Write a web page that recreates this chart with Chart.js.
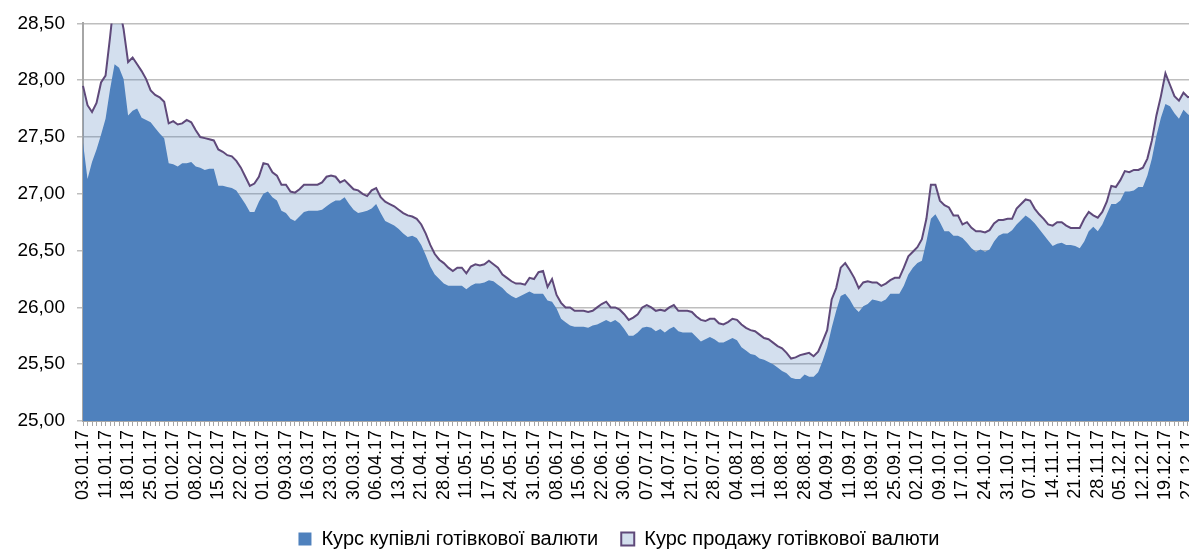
<!DOCTYPE html>
<html>
<head>
<meta charset="utf-8">
<title>Курс готівкової валюти</title>
<script src="https://cdn.jsdelivr.net/npm/chart.js@4.4.1/dist/chart.umd.min.js"></script>
<style>
  html, body { margin: 0; padding: 0; background: #fff; overflow: hidden; }
  #wrap { width: 1238px; height: 559px; }
</style>
</head>
<body>
<div id="wrap"><canvas id="rateChart" width="1238" height="559"></canvas></div>
<script>
// tick labels, one every 5 business days
const tickLabels = [
  '03.01.17', '11.01.17', '18.01.17', '25.01.17', '01.02.17', '08.02.17', '15.02.17', '22.02.17',
  '01.03.17', '09.03.17', '16.03.17', '23.03.17', '30.03.17', '06.04.17', '13.04.17', '21.04.17',
  '28.04.17', '11.05.17', '17.05.17', '24.05.17', '31.05.17', '08.06.17', '15.06.17', '22.06.17',
  '30.06.17', '07.07.17', '14.07.17', '21.07.17', '28.07.17', '04.08.17', '11.08.17', '18.08.17',
  '28.08.17', '04.09.17', '11.09.17', '18.09.17', '25.09.17', '02.10.17', '09.10.17', '17.10.17',
  '24.10.17', '31.10.17', '07.11.17', '14.11.17', '21.11.17', '28.11.17', '05.12.17', '12.12.17',
  '19.12.17', '27.12.17'
];

// Курс купівлі (buying rate)
const buyRate = [
  27.45, 27.13, 27.28, 27.39, 27.52, 27.66, 27.92, 28.14, 28.11, 28.01,
  27.69, 27.73, 27.75, 27.67, 27.65, 27.63, 27.58, 27.53, 27.49, 27.27,
  27.26, 27.24, 27.27, 27.27, 27.28, 27.24, 27.23, 27.21, 27.22, 27.22,
  27.07, 27.07, 27.06, 27.05, 27.03, 26.97, 26.91, 26.84, 26.84, 26.93,
  27.00, 27.02, 26.97, 26.94, 26.85, 26.83, 26.78, 26.76, 26.80, 26.84,
  26.85, 26.85, 26.85, 26.86, 26.89, 26.92, 26.94, 26.94, 26.97, 26.91,
  26.86, 26.83, 26.84, 26.85, 26.87, 26.91, 26.83, 26.76, 26.74, 26.72,
  26.69, 26.65, 26.62, 26.63, 26.61, 26.55, 26.46, 26.36, 26.29, 26.25,
  26.21, 26.19, 26.19, 26.19, 26.19, 26.16, 26.19, 26.21, 26.21, 26.22,
  26.24, 26.23, 26.20, 26.17, 26.13, 26.10, 26.08, 26.10, 26.12, 26.14,
  26.12, 26.12, 26.12, 26.06, 26.05, 25.99, 25.90, 25.87, 25.84, 25.83,
  25.83, 25.83, 25.82, 25.84, 25.85, 25.87, 25.89, 25.87, 25.89, 25.86,
  25.81, 25.75, 25.75, 25.78, 25.82, 25.83, 25.82, 25.79, 25.81, 25.78,
  25.81, 25.83, 25.79, 25.78, 25.78, 25.78, 25.74, 25.70, 25.72, 25.74,
  25.72, 25.69, 25.69, 25.71, 25.73, 25.71, 25.65, 25.62, 25.59, 25.58,
  25.55, 25.54, 25.52, 25.50, 25.47, 25.44, 25.42, 25.38, 25.37, 25.37,
  25.41, 25.39, 25.39, 25.43, 25.53, 25.65, 25.82, 25.97, 26.10, 26.12,
  26.07, 26.00, 25.96, 26.01, 26.03, 26.07, 26.06, 26.05, 26.07, 26.12,
  26.12, 26.12, 26.19, 26.29, 26.35, 26.39, 26.41, 26.58, 26.78, 26.82,
  26.75, 26.67, 26.67, 26.63, 26.63, 26.61, 26.57, 26.52, 26.49, 26.51,
  26.49, 26.51, 26.58, 26.63, 26.65, 26.65, 26.68, 26.73, 26.77, 26.81,
  26.78, 26.74, 26.69, 26.64, 26.59, 26.54, 26.56, 26.57, 26.55, 26.55,
  26.54, 26.52, 26.58, 26.67, 26.71, 26.67, 26.73, 26.82, 26.91, 26.91,
  26.94, 27.02, 27.02, 27.03, 27.06, 27.06, 27.16, 27.31, 27.51, 27.67,
  27.79, 27.77, 27.71, 27.66, 27.74, 27.70, 27.67, 27.64
];

// Курс продажу (selling rate)
const sellRate = [
  27.95, 27.78, 27.72, 27.80, 27.98, 28.04, 28.38, 28.75, 28.65, 28.45,
  28.16, 28.20, 28.14, 28.08, 28.01, 27.91, 27.87, 27.85, 27.81, 27.62,
  27.64, 27.61, 27.62, 27.65, 27.63, 27.56, 27.50, 27.49, 27.48, 27.47,
  27.39, 27.37, 27.34, 27.33, 27.29, 27.23, 27.15, 27.07, 27.09, 27.15,
  27.27, 27.26, 27.19, 27.16, 27.08, 27.08, 27.02, 27.01, 27.04, 27.08,
  27.08, 27.08, 27.08, 27.10, 27.15, 27.16, 27.15, 27.10, 27.12, 27.08,
  27.04, 27.03, 27.00, 26.98, 27.03, 27.05, 26.97, 26.93, 26.91, 26.89,
  26.86, 26.83, 26.81, 26.80, 26.78, 26.73, 26.65, 26.55, 26.47, 26.42,
  26.39, 26.35, 26.32, 26.35, 26.35, 26.30, 26.36, 26.38, 26.37, 26.38,
  26.41, 26.38, 26.35, 26.29, 26.26, 26.23, 26.21, 26.21, 26.20, 26.26,
  26.25, 26.31, 26.32, 26.18, 26.25, 26.11, 26.04, 26.00, 26.00, 25.97,
  25.97, 25.97, 25.96, 25.97, 26.00, 26.03, 26.05, 26.00, 26.00, 25.98,
  25.94, 25.89, 25.91, 25.94, 26.00, 26.02, 26.00, 25.97, 25.98, 25.97,
  26.00, 26.02, 25.97, 25.97, 25.97, 25.96, 25.92, 25.89, 25.88, 25.90,
  25.90, 25.86, 25.85, 25.87, 25.90, 25.89, 25.85, 25.82, 25.80, 25.79,
  25.76, 25.73, 25.72, 25.69, 25.66, 25.64, 25.60, 25.55, 25.56, 25.58,
  25.59, 25.60, 25.57, 25.61, 25.70, 25.80, 26.07, 26.17, 26.35, 26.39,
  26.33, 26.26, 26.17, 26.22, 26.23, 26.22, 26.22, 26.19, 26.21, 26.24,
  26.26, 26.26, 26.35, 26.45, 26.49, 26.53, 26.60, 26.78, 27.08, 27.08,
  26.94, 26.90, 26.88, 26.81, 26.81, 26.73, 26.75, 26.70, 26.67, 26.67,
  26.66, 26.68, 26.74, 26.77, 26.77, 26.78, 26.78, 26.87, 26.91, 26.95,
  26.94, 26.87, 26.82, 26.78, 26.73, 26.72, 26.75, 26.75, 26.72, 26.70,
  26.70, 26.70, 26.78, 26.84, 26.81, 26.79, 26.84, 26.93, 27.07, 27.06,
  27.12, 27.20, 27.19, 27.21, 27.21, 27.23, 27.31, 27.47, 27.69, 27.86,
  28.06, 27.96, 27.86, 27.82, 27.89, 27.85, 27.86, 27.87
];

const labels = buyRate.map((v, i) => i % 5 === 0 ? (tickLabels[i / 5] || '') : '');

const FONT = "'Liberation Sans', Arial, sans-serif";
const axisGray = '#A6A6A6';

new Chart(document.getElementById('rateChart'), {
    type: 'line',
    data: {
        labels: labels,
        datasets: [
            {
                label: 'Курс купівлі готівкової валюти',
                data: buyRate,
                backgroundColor: '#4F81BD',
                borderColor: '#4F81BD',
                borderWidth: 0,
                fill: 'start',
                pointRadius: 0,
                tension: 0
            },
            {
                label: 'Курс продажу готівкової валюти',
                data: sellRate,
                backgroundColor: 'rgba(79,129,189,0.25)',
                borderColor: '#5F497A',
                borderWidth: 2,
                fill: 'start',
                pointRadius: 0,
                tension: 0
            }
        ]
    },
    options: {
        responsive: false,
        animation: false,
        devicePixelRatio: 1,
        layout: { padding: { left: 0, right: 0, top: 20, bottom: 0 } },
        plugins: {
            tooltip: { enabled: false },
            legend: {
                position: 'bottom',
                labels: {
                    color: '#000',
                    font: { family: FONT, size: 20 },
                    boxWidth: 13,
                    boxHeight: 13,
                    padding: 23
                }
            }
        },
        scales: {
            x: {
                ticks: {
                    autoSkip: false,
                    maxRotation: 90,
                    minRotation: 90,
                    padding: 4,
                    color: '#000',
                    font: { family: FONT, size: 18 },
                    callback: (v, i) => labels[i]
                },
                grid: { drawOnChartArea: false, color: axisGray, tickLength: 5 },
                border: { color: axisGray, width: 2 },
                afterFit: s => { s.height = 85; }
            },
            y: {
                min: 25,
                max: 28.5,
                ticks: {
                    stepSize: 0.5,
                    padding: 12,
                    color: '#000',
                    font: { family: FONT, size: 19 },
                    callback: v => v.toFixed(2).replace('.', ',')
                },
                grid: { color: '#BEBEBE', lineWidth: 1.5, tickLength: 6 },
                border: { color: axisGray, width: 2 },
                afterFit: s => { s.width = 83; }
            },
            // empty right gutter so the plot runs past the window edge like the source
            yPad: {
                position: 'right',
                display: true,
                grid: { display: false },
                ticks: { display: false },
                border: { display: false },
                afterFit: s => { s.width = 41; }
            }
        }
    }
});
</script>
</body>
</html>
